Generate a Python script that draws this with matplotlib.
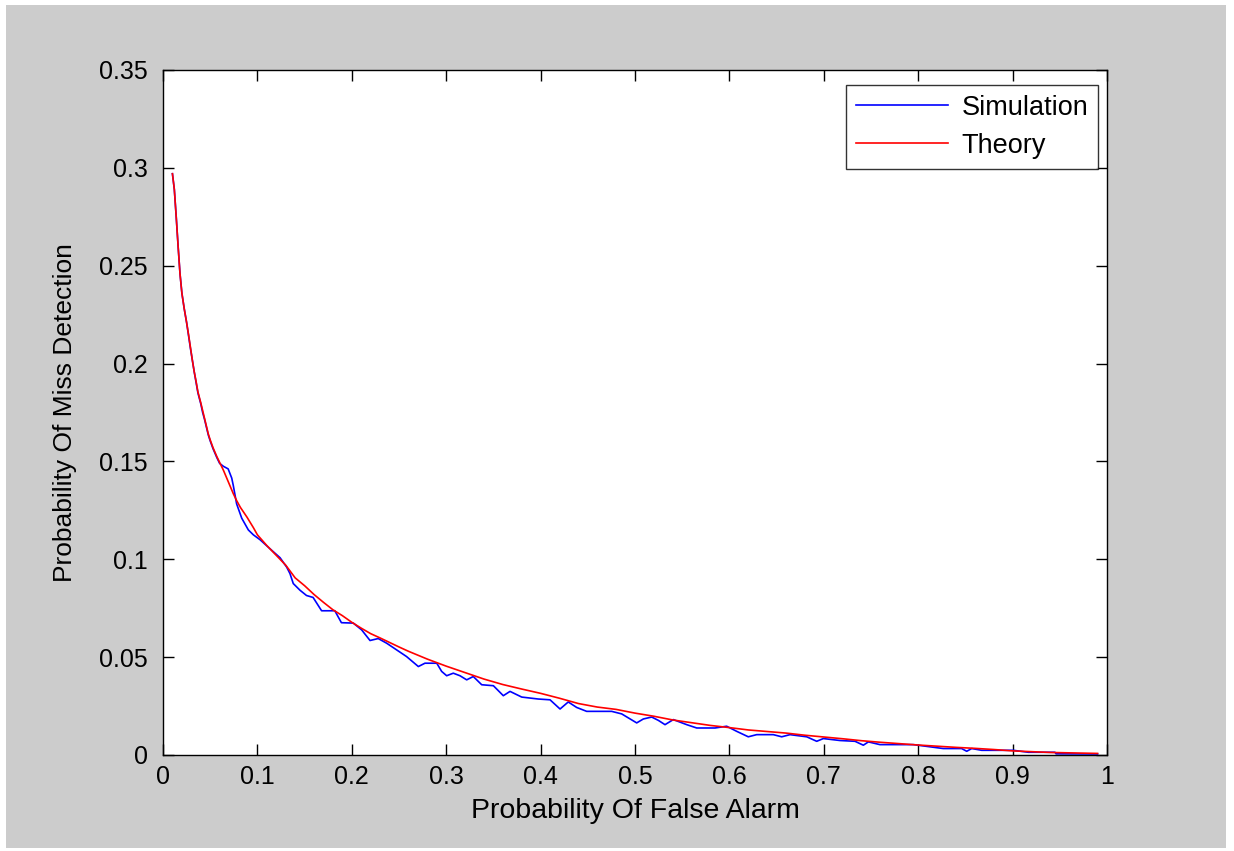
import matplotlib
matplotlib.use("Agg")
import matplotlib.pyplot as plt
from matplotlib.patches import Rectangle

plt.rcParams['font.family'] = ['Liberation Sans', 'DejaVu Sans']

# Simulation curve
sim_pfa = [0.010, 0.012, 0.014, 0.016, 0.018, 0.020, 0.0225, 0.025, 0.027, 0.029,
           0.031, 0.033, 0.035, 0.037, 0.040, 0.042, 0.044, 0.046, 0.048, 0.050,
           0.053, 0.057, 0.060, 0.064, 0.069, 0.0728, 0.0745, 0.078, 0.0834, 0.0904,
           0.0957, 0.1028, 0.1133, 0.124, 0.131, 0.1345, 0.138, 0.1451, 0.152, 0.159,
           0.168, 0.182, 0.189, 0.2016, 0.2105, 0.2193, 0.228, 0.237, 0.2475, 0.258,
           0.2705, 0.2775, 0.290, 0.2952, 0.3005, 0.3075, 0.3146, 0.3217, 0.3287, 0.3376,
           0.350, 0.3605, 0.3676, 0.380, 0.3976, 0.410, 0.4206, 0.4293, 0.4382, 0.4488,
           0.4753, 0.4859, 0.5018, 0.5088, 0.5177, 0.5247, 0.5318, 0.5406, 0.5548, 0.5654,
           0.5847, 0.5971, 0.6077, 0.620, 0.6289, 0.6465, 0.6554, 0.6642, 0.6819, 0.6925,
           0.6995, 0.7172, 0.7331, 0.7419, 0.7472, 0.7595, 0.7948, 0.8266, 0.846, 0.8514,
           0.8567, 0.8673, 0.9007, 0.9166, 0.9449, 0.946, 0.99]
sim_pmd = [0.297, 0.289, 0.275, 0.260, 0.246, 0.236, 0.228, 0.221, 0.2145, 0.208,
           0.202, 0.196, 0.1905, 0.185, 0.1795, 0.175, 0.1715, 0.1675, 0.1635, 0.1605,
           0.1565, 0.152, 0.149, 0.1475, 0.1462, 0.1415, 0.1376, 0.1283, 0.121, 0.1150,
           0.1125, 0.110, 0.1054, 0.1008, 0.096, 0.0927, 0.0876, 0.0842, 0.0815, 0.0805,
           0.0737, 0.0737, 0.0676, 0.0674, 0.0639, 0.0585, 0.0595, 0.0571, 0.0537, 0.0503,
           0.0452, 0.0469, 0.0469, 0.0427, 0.0405, 0.0418, 0.0405, 0.0384, 0.0401, 0.0359,
           0.0354, 0.0303, 0.0325, 0.0296, 0.0286, 0.0282, 0.0235, 0.0271, 0.0243, 0.0223,
           0.0223, 0.021, 0.0164, 0.0184, 0.0194, 0.0177, 0.0155, 0.0181, 0.0155, 0.0138,
           0.0138, 0.0147, 0.0121, 0.0093, 0.0104, 0.0104, 0.0093, 0.0104, 0.0093, 0.007,
           0.0084, 0.0074, 0.007, 0.005, 0.0067, 0.0053, 0.0053, 0.0033, 0.0033, 0.0019,
           0.0033, 0.0024, 0.0024, 0.0014, 0.0014, 0.0006, 0.0005]

# Theory curve
th_pfa = [0.010, 0.012, 0.014, 0.016, 0.018, 0.020, 0.0225, 0.025, 0.027, 0.029,
          0.031, 0.033, 0.035, 0.037, 0.040, 0.042, 0.044, 0.046, 0.048, 0.050,
          0.053, 0.057, 0.060, 0.064, 0.0675, 0.071, 0.0745, 0.078, 0.082, 0.089,
          0.0957, 0.10, 0.11, 0.12, 0.13, 0.14, 0.15, 0.16, 0.17, 0.18,
          0.19, 0.20, 0.21, 0.22, 0.23, 0.24, 0.25, 0.26, 0.28, 0.30,
          0.32, 0.34, 0.36, 0.38, 0.40, 0.42, 0.44, 0.46, 0.48, 0.50,
          0.52, 0.54, 0.56, 0.58, 0.60, 0.62, 0.64, 0.66, 0.68, 0.70,
          0.72, 0.74, 0.76, 0.78, 0.80, 0.82, 0.84, 0.86, 0.88, 0.90,
          0.92, 0.94, 0.96, 0.99]
th_pmd = [0.297, 0.289, 0.275, 0.260, 0.246, 0.236, 0.228, 0.221, 0.215, 0.2085,
          0.202, 0.196, 0.191, 0.1855, 0.180, 0.176, 0.172, 0.168, 0.164, 0.161,
          0.157, 0.1525, 0.1495, 0.1455, 0.1415, 0.1375, 0.1335, 0.130, 0.1265, 0.1215,
          0.1162, 0.1125, 0.107, 0.102, 0.097, 0.0905, 0.0865, 0.082, 0.078, 0.0742,
          0.0712, 0.0678, 0.0648, 0.062, 0.0598, 0.0575, 0.0552, 0.053, 0.049, 0.0454,
          0.0421, 0.0388, 0.036, 0.0337, 0.0315, 0.029, 0.0263, 0.0245, 0.0233, 0.0214,
          0.0198, 0.0179, 0.0165, 0.0151, 0.014, 0.0128, 0.012, 0.0112, 0.0101, 0.0092,
          0.0083, 0.0073, 0.0065, 0.0058, 0.0051, 0.0045, 0.0039, 0.0034, 0.0028, 0.0021,
          0.0017, 0.0013, 0.0011, 0.0008]

xticks = [0, 0.1, 0.2, 0.3, 0.4, 0.5, 0.6, 0.7, 0.8, 0.9, 1]
xtick_labels = ['0', '0.1', '0.2', '0.3', '0.4', '0.5', '0.6', '0.7', '0.8', '0.9', '1']
yticks = [0, 0.05, 0.1, 0.15, 0.2, 0.25, 0.3, 0.35]
ytick_labels = ['0', '0.05', '0.1', '0.15', '0.2', '0.25', '0.3', '0.35']

W, H = 1234, 851
fig = plt.figure(figsize=(W / 100, H / 100), dpi=100, facecolor='white')
bg = fig.add_axes([0, 0, 1, 1], zorder=-10)
bg.set_axis_off()
bg.set_xlim(0, W)
bg.set_ylim(H, 0)
bg.add_patch(Rectangle((6, 5), 1226 - 6, 848 - 5, facecolor='#cccccc', edgecolor='none'))

ax = fig.add_axes([163 / W, 1 - 755 / H, (1107 - 163) / W, (755 - 70) / H], zorder=1)
ax.set_facecolor('white')
ax.plot(sim_pfa, sim_pmd, color='#0000ff', lw=1.2, label='Simulation')
ax.plot(th_pfa, th_pmd, color='#ff0000', lw=1.2, label='Theory')

ax.set_xlim(0, 1)
ax.set_ylim(0, 0.35)
ax.set_xticks(xticks)
ax.set_xticklabels(xtick_labels)
ax.set_yticks(yticks)
ax.set_yticklabels(ytick_labels)
ax.tick_params(direction='in', length=8, width=1, top=True, right=True,
               labelsize=18, colors='black')
ax.tick_params(axis='x', pad=7)
ax.tick_params(axis='y', pad=11)
for s in ax.spines.values():
    s.set_linewidth(1.0)
    s.set_color('black')

ax.set_xlabel('Probability Of False Alarm', fontsize=20.5, labelpad=7)
ax.set_ylabel('Probability Of Miss Detection', fontsize=19, labelpad=16)

leg = ax.legend(loc='upper right', bbox_to_anchor=((1098 - 163) / 944, (755 - 85) / 685),
                fontsize=19.5, frameon=True, fancybox=False, handlelength=3.4,
                borderaxespad=0, handletextpad=0.5, borderpad=0.36, labelspacing=0.45)
leg.get_frame().set_edgecolor('black')
leg.get_frame().set_linewidth(1.0)

fig.savefig('out.png', dpi=100, facecolor=fig.get_facecolor())
